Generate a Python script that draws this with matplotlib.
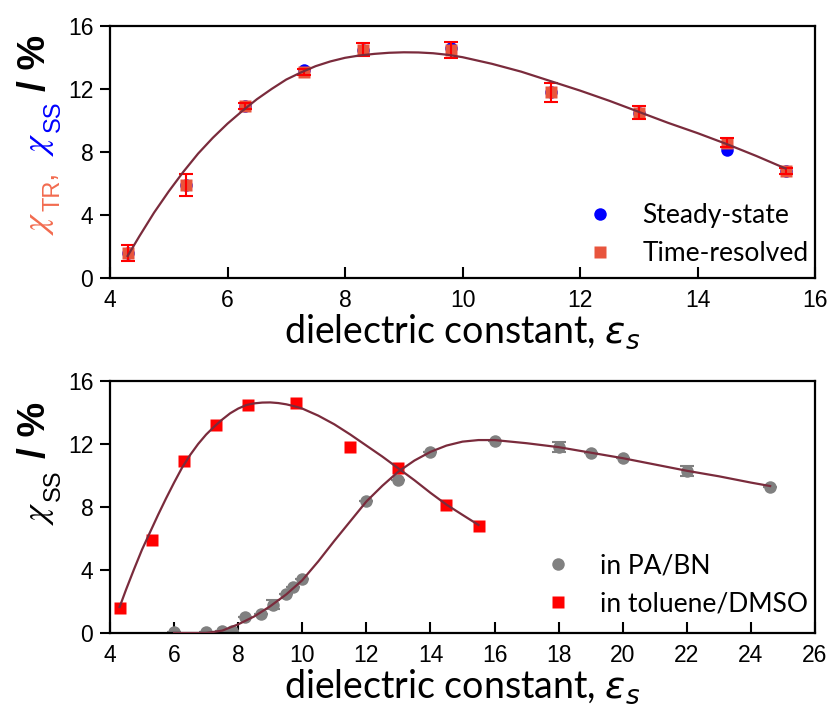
import matplotlib
matplotlib.use("Agg")
import matplotlib.pyplot as plt

# ---- data ----
# top panel: steady-state vs time-resolved yields in mixed solvents
eps_mix = [4.3, 5.3, 6.3, 7.3, 8.3, 9.8, 11.5, 13.0, 14.5, 15.5]
chi_ss = [1.6, 5.9, 10.9, 13.2, 14.5, 14.6, 11.8, 10.5, 8.1, 6.8]
chi_tr = [1.6, 5.9, 10.9, 13.1, 14.5, 14.5, 11.8, 10.5, 8.6, 6.8]
chi_tr_err = [0.5, 0.7, 0.2, 0.2, 0.4, 0.5, 0.6, 0.4, 0.3, 0.2]

# fitted curve (top)
fit_top_x = [4.3, 4.5, 4.75, 5.0, 5.25, 5.5, 5.75, 6.0, 6.25, 6.5, 6.75, 7.0,
             7.25, 7.5, 7.75, 8.0, 8.25, 8.5, 8.75, 9.0, 9.25, 9.5, 9.75, 10.0,
             10.5, 11.0, 11.5, 12.0, 12.5, 13.0, 13.5, 14.0, 14.5, 15.0, 15.5]
fit_top_y = [1.4, 2.65, 4.15, 5.5, 6.75, 7.9, 8.9, 9.8, 10.6, 11.35, 12.0, 12.6,
             13.05, 13.45, 13.75, 13.98, 14.13, 14.23, 14.3, 14.33, 14.32, 14.27,
             14.17, 14.02, 13.6, 13.1, 12.5, 11.9, 11.25, 10.55, 9.85, 9.2, 8.5,
             7.75, 6.95]

# bottom panel: PA/BN series
eps_pabn = [6.0, 7.0, 7.5, 7.8, 8.2, 8.7, 9.1, 9.5, 9.7, 10.0,
            12.0, 13.0, 14.0, 16.0, 18.0, 19.0, 20.0, 22.0, 24.6]
chi_pabn = [0.05, 0.05, 0.1, 0.15, 1.0, 1.2, 1.8, 2.5, 2.9, 3.4,
            8.4, 9.7, 11.5, 12.2, 11.8, 11.4, 11.1, 10.3, 9.3]
chi_pabn_err = [0, 0, 0, 0, 0, 0, 0.3, 0, 0, 0,
                0, 0, 0, 0, 0.3, 0, 0, 0.3, 0]

# bottom panel: toluene/DMSO series (same as steady-state above)
eps_tol = eps_mix
chi_tol = chi_ss

fit_tol_x = [4.3, 4.5, 4.75, 5.0, 5.25, 5.5, 5.75, 6.0, 6.25, 6.5, 6.75, 7.0,
             7.25, 7.5, 7.75, 8.0, 8.25, 8.5, 8.75, 9.0, 9.25, 9.5, 9.75, 10.0,
             10.5, 11.0, 11.5, 12.0, 12.5, 13.0, 13.5, 14.0, 14.5, 15.0, 15.5]
fit_tol_y = [1.65, 2.75, 4.05, 5.3, 6.4, 7.5, 8.55, 9.55, 10.5, 11.3, 12.0, 12.6,
             13.1, 13.55, 13.95, 14.25, 14.47, 14.58, 14.63, 14.64, 14.6, 14.52,
             14.4, 14.25, 13.8, 13.25, 12.6, 11.9, 11.2, 10.45, 9.7, 8.9, 8.15,
             7.5, 6.86]

fit_pabn_x = [6.0, 6.5, 7.0, 7.5, 8.0, 8.5, 9.0, 9.5, 10.0, 10.5, 11.0, 11.5, 12.0,
              12.5, 13.0, 13.5, 14.0, 14.5, 15.0, 15.5, 16.0, 17.0, 18.0, 19.0,
              20.0, 21.0, 22.0, 23.0, 24.0, 24.6]
fit_pabn_y = [0.0, 0.0, 0.0, 0.15, 0.55, 1.05, 1.7, 2.45, 3.35, 4.55, 5.85, 7.1, 8.35,
              9.35, 10.25, 10.95, 11.5, 11.9, 12.15, 12.25, 12.25, 12.05, 11.8, 11.45,
              11.1, 10.7, 10.3, 9.95, 9.55, 9.33]

# ---- style ----
W, H = 832, 715
fit_color = '#7a2b3c'
tr_color = '#e8553d'
label_font = 'Lato'
tick_font = 'Liberation Sans'

fig = plt.figure(figsize=(W / 100, H / 100), dpi=100)
ax1 = fig.add_axes([110 / W, 1 - 278 / H, 705 / W, 252 / H])
ax2 = fig.add_axes([110 / W, 1 - 633 / H, 705 / W, 252 / H])


def style_axes(ax, xticks):
    ax.set_ylim(0, 16)
    ax.set_yticks([0, 4, 8, 12, 16])
    ax.set_xticks(xticks)
    ax.set_xlim(xticks[0], xticks[-1])
    for sp in ax.spines.values():
        sp.set_linewidth(1.6)
    ax.tick_params(axis='x', direction='in', length=8, width=1.5, pad=8)
    ax.tick_params(axis='y', direction='out', length=7, width=1.5, pad=5)
    for lab in ax.get_xticklabels() + ax.get_yticklabels():
        lab.set_fontfamily(tick_font)
        lab.set_fontsize(16.5)
    ax.set_xlabel(r'dielectric constant, $\varepsilon_s$', fontsize=27,
                  family=label_font, labelpad=0)


legend_kw = dict(loc='lower right', frameon=False,
                 prop={'family': label_font, 'size': 19},
                 handletextpad=1.0, labelspacing=0.5, borderaxespad=0,
                 borderpad=0.25, handlelength=1.2)

# top panel
ax = ax1
ax.plot(eps_mix, chi_ss, 'o', color='#0000ff', ms=9, mec='none',
        label='Steady-state', zorder=2)
ax.plot(eps_mix, chi_tr, 's', color=tr_color, ms=9, mec='none',
        label='Time-resolved', zorder=3)
ax.errorbar(eps_mix, chi_tr, yerr=chi_tr_err, fmt='none', ecolor='#ff0000',
            elinewidth=1.5, capsize=5, capthick=1.5, zorder=4)
ax.plot(fit_top_x, fit_top_y, '-', color=fit_color, lw=1.6, zorder=5)
style_axes(ax, [4, 6, 8, 10, 12, 14, 16])
ax.legend(bbox_to_anchor=(1, 0.02), **legend_kw)

# bottom panel
ax = ax2
ax.plot(eps_pabn, chi_pabn, 'o', color='#808080', ms=9, mec='none',
        label='in PA/BN', zorder=2)
ax.errorbar(eps_pabn, chi_pabn, yerr=chi_pabn_err, fmt='none', ecolor='#808080',
            elinewidth=1.5, capsize=5, capthick=1.5, zorder=2)
ax.plot(eps_tol, chi_tol, 's', color='#ff0000', ms=8.5, mec='none',
        label='in toluene/DMSO', zorder=3)
ax.plot(fit_tol_x, fit_tol_y, '-', color=fit_color, lw=1.6, zorder=5)
ax.plot(fit_pabn_x, fit_pabn_y, '-', color=fit_color, lw=1.6, zorder=5)
style_axes(ax, list(range(4, 27, 2)))
ax.legend(bbox_to_anchor=(1, 0.04), **legend_kw)


# multi-coloured rotated y labels, built piece by piece upwards
# (pixel coords measured from the top of the image)
renderer = fig.canvas.get_renderer()


def ylabel_pieces(y_start, pieces):
    y = y_start
    for s, x_base, gap, color, kw in pieces:
        y -= gap
        t = fig.text(x_base / W, 1 - y / H, s, color=color, rotation=90,
                     rotation_mode='anchor', ha='left', va='baseline', **kw)
        bb = t.get_window_extent(renderer)
        y = H - bb.y1


chi_kw = dict(fontsize=26, math_fontfamily='stix')
sub_kw = dict(fontsize=17, family=tick_font)
comma_kw = dict(fontsize=22, family=tick_font)
slash_kw = dict(fontsize=28, fontweight='bold', family=tick_font)

ylabel_pieces(235, [
    (r'$\chi$', 47, 0, '#f26b4f', chi_kw),
    ('TR', 60, 0, '#f26b4f', sub_kw),
    (',', 52, 1, '#f26b4f', comma_kw),
    (r'$\chi$', 47, 14, '#0000ff', chi_kw),
    ('SS', 60, 0, '#0000ff', sub_kw),
    ('/ %', 45, 10, 'black', slash_kw),
])

ylabel_pieces(525, [
    (r'$\chi$', 47, 0, 'black', chi_kw),
    ('SS', 60, 0, 'black', sub_kw),
    ('/ %', 45, 12, 'black', slash_kw),
])

fig.savefig('out.png', dpi=100)
